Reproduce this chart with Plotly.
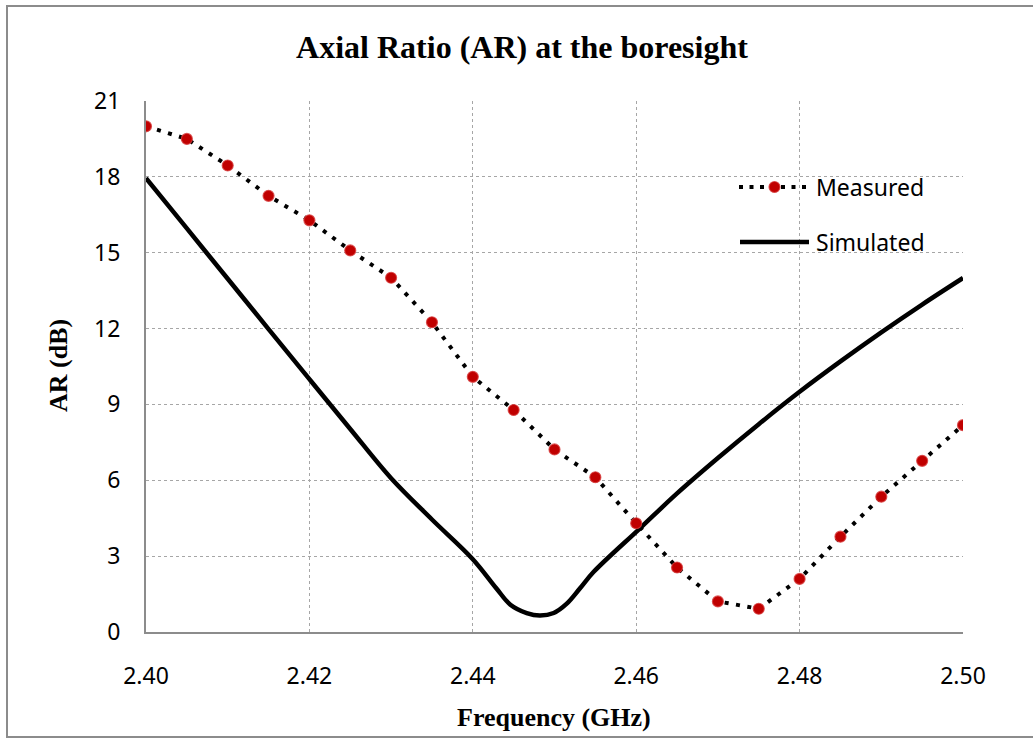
import plotly.graph_objects as go

# ---- data ----
meas_freq = [2.400, 2.405, 2.410, 2.415, 2.420, 2.425, 2.430, 2.435, 2.440, 2.445,
             2.450, 2.455, 2.460, 2.465, 2.470, 2.475, 2.480, 2.485, 2.490, 2.495, 2.500]
meas_ar = [20.0, 19.5, 18.45, 17.25, 16.28, 15.09, 14.01, 12.25, 10.09, 8.78,
           7.22, 6.12, 4.30, 2.55, 1.21, 0.92, 2.10, 3.77, 5.35, 6.77, 8.18]

sim_freq = [2.400, 2.405, 2.410, 2.415, 2.420, 2.425, 2.430, 2.435, 2.440,
            2.4429, 2.4446, 2.4466, 2.4482, 2.4499, 2.4515, 2.4531, 2.4548,
            2.4605, 2.465, 2.470, 2.475, 2.480, 2.485, 2.490, 2.495, 2.500]
sim_ar = [17.95, 15.96, 13.97, 11.98, 10.0, 8.03, 6.08, 4.45, 2.88,
          1.72, 1.08, 0.75, 0.65, 0.75, 1.12, 1.72, 2.38,
          4.11, 5.48, 6.88, 8.22, 9.50, 10.70, 11.85, 12.95, 14.00]

x_ticks = [2.40, 2.42, 2.44, 2.46, 2.48, 2.50]
x_tick_labels = ["2.40", "2.42", "2.44", "2.46", "2.48", "2.50"]
y_ticks = [0, 3, 6, 9, 12, 15, 18, 21]

title_text = "Axial Ratio (AR) at the boresight"
x_title = "Frequency (GHz)"
y_title = "AR (dB)"
legend_names = ["Measured", "Simulated"]

# ---- layout geometry (pixels) ----
W, H = 1033, 738
L, R, T, B = 146, 70, 101, 106
PW, PH = W - L - R, H - T - B


def px(X):
    return (X - L) / PW


def py(Y):
    return (H - B - Y) / PH


fig = go.Figure()

fig.add_trace(go.Scatter(
    x=sim_freq, y=sim_ar, mode="lines", name=legend_names[1],
    line=dict(color="black", width=4.5, shape="spline", smoothing=1.0),
    showlegend=False,
))
fig.add_trace(go.Scatter(
    x=meas_freq, y=meas_ar, mode="lines+markers", name=legend_names[0],
    line=dict(color="black", width=4, dash="4px,7.5px"),
    marker=dict(size=11, color="#C00000", line=dict(color="rgba(215,60,60,0.8)", width=1.2)),
    showlegend=False,
))

GRID = "#A6A6A6"
AXC = "#8C8C8C"
tickfont = dict(family="Noto Sans", size=23, color="black")

fig.update_xaxes(
    range=[2.40, 2.50], tickvals=x_ticks, ticktext=x_tick_labels,
    showgrid=True, gridcolor=GRID, griddash="dot", gridwidth=1,
    showline=True, linecolor=AXC, linewidth=2, zeroline=False,
    ticks="", ticklabelstandoff=22, tickfont=tickfont,
)
fig.update_yaxes(
    range=[0, 21], tickvals=y_ticks,
    showgrid=True, gridcolor=GRID, griddash="dot", gridwidth=1,
    showline=True, linecolor=AXC, linewidth=2, zeroline=False,
    ticks="", ticklabelstandoff=19, tickfont=tickfont,
)

shapes = [
    # outer chart frame
    dict(type="rect", xref="paper", yref="paper",
         x0=px(7), x1=px(1045), y0=py(737), y1=py(6),
         line=dict(color=AXC, width=2), layer="below"),
    # legend: measured
    dict(type="line", xref="paper", yref="paper",
         x0=px(739), x1=px(807), y0=py(187), y1=py(187),
         line=dict(color="black", width=4, dash="4px,6.5px")),
    dict(type="circle", xref="paper", yref="paper",
         xsizemode="pixel", ysizemode="pixel",
         xanchor=px(774.5), yanchor=py(187),
         x0=-5.5, x1=5.5, y0=-5.5, y1=5.5,
         fillcolor="#C00000", line=dict(color="rgba(215,60,60,0.8)", width=1.2)),
    # legend: simulated
    dict(type="line", xref="paper", yref="paper",
         x0=px(740), x1=px(809), y0=py(242), y1=py(242),
         line=dict(color="black", width=4.5)),
]

annotations = [
    dict(text=legend_names[0], xref="paper", yref="paper", x=px(814), y=py(187),
         xanchor="left", yanchor="middle", showarrow=False,
         font=dict(family="Noto Sans", size=23, color="black")),
    dict(text=legend_names[1], xref="paper", yref="paper", x=px(814), y=py(242),
         xanchor="left", yanchor="middle", showarrow=False,
         font=dict(family="Noto Sans", size=23, color="black")),
    dict(text="<b>" + x_title + "</b>", xref="paper", yref="paper", x=px(554), y=py(717),
         xanchor="center", yanchor="middle", showarrow=False,
         font=dict(family="Liberation Serif", size=26, color="black")),
    dict(text="<b>" + y_title + "</b>", xref="paper", yref="paper", x=px(58), y=py(366),
         xanchor="center", yanchor="middle", showarrow=False, textangle=-90,
         font=dict(family="Liberation Serif", size=26, color="black")),
]

fig.update_layout(
    width=W, height=H,
    margin=dict(l=L, r=R, t=T, b=B),
    paper_bgcolor="white", plot_bgcolor="white",
    title=dict(text="<b>" + title_text + "</b>", x=522 / W, xref="container", xanchor="center",
               y=1 - 47 / H, yref="container", yanchor="middle",
               font=dict(family="Liberation Serif", size=32, color="black")),
    shapes=shapes, annotations=annotations, showlegend=False,
)

fig.write_html("out.html")
